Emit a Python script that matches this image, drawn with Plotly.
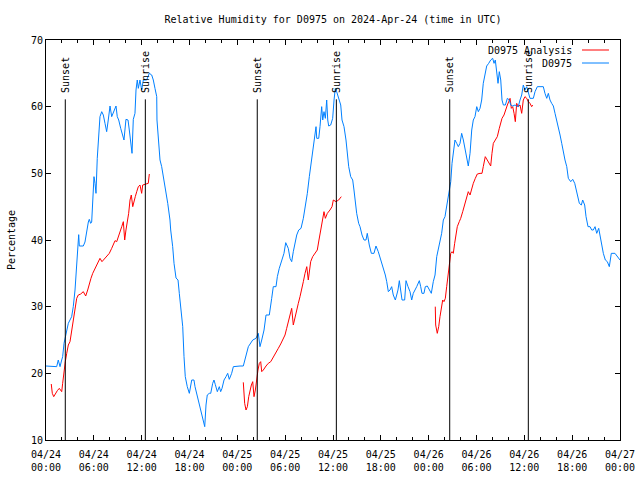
import pandas as pd
import numpy as np
import plotly.graph_objects as go

BASE = pd.Timestamp("2024-04-24 00:00")

# D0975 observations: hours since 2024-04-24 00:00 UTC, relative humidity (%)
obs_hours = [0.00, 0.16, 1.00, 1.34, 1.54, 1.76, 1.97, 2.09, 2.26, 2.51, 2.80, 3.22, 3.42, 3.64, 3.85, 3.98,
             4.10, 4.18, 4.68, 4.89, 5.11, 5.31, 5.43, 5.60, 5.73, 5.86, 6.02, 6.15, 6.27, 6.43, 6.61, 6.77,
             6.99, 7.19, 7.40, 7.61, 7.81, 8.03, 8.24, 8.44, 8.78, 8.94, 9.12, 9.37, 9.62, 9.78, 10.03, 10.29,
             10.45, 10.62, 10.79, 10.95, 11.16, 11.29, 11.45, 11.58, 11.79, 12.00, 12.21, 12.63, 12.96, 13.26,
             13.46, 13.67, 13.89, 13.92, 14.09, 14.30, 14.51, 14.80, 15.05, 15.27, 15.55, 15.64, 15.89, 16.06,
             16.31, 16.56, 16.72, 16.90, 17.15, 17.31, 17.47, 17.72, 17.98, 18.28, 18.56, 18.69, 18.90, 19.10,
             19.32, 19.53, 19.73, 19.91, 20.07, 20.23, 20.48, 20.66, 20.91, 21.07, 21.24, 21.49, 21.74, 21.91,
             22.08, 22.33, 22.58, 22.79, 22.99, 23.29, 23.50, 23.92, 24.34, 24.75, 24.96, 25.18, 25.38, 25.93,
             26.34, 26.63, 26.84, 27.06, 27.35, 27.60, 28.01, 28.31, 28.51, 28.85, 29.02, 29.26, 29.57, 29.85,
             30.07, 30.39, 30.61, 30.82, 31.02, 31.23, 31.45, 31.70, 31.99, 32.28, 32.53, 32.78, 33.03, 33.20,
             33.37, 33.53, 33.71, 33.87, 33.96, 34.21, 34.37, 34.58, 34.71, 34.87, 35.04, 35.21, 35.34, 35.46,
             35.71, 35.96, 36.13, 36.29, 36.46, 36.66, 36.97, 37.13, 37.38, 37.63, 37.79, 37.97, 38.22, 38.47,
             38.63, 38.80, 38.97, 39.22, 39.39, 39.64, 39.89, 40.14, 40.30, 40.55, 40.81, 41.14, 41.39, 41.68,
             41.98, 42.31, 42.56, 42.74, 42.94, 43.15, 43.36, 43.56, 43.82, 43.99, 44.15, 44.32, 44.49, 44.66,
             44.99, 45.16, 45.41, 45.66, 45.87, 46.07, 46.50, 46.83, 47.00, 47.16, 47.41, 47.58, 47.83, 48.08,
             48.33, 48.58, 48.80, 49.01, 49.21, 49.33, 49.63, 49.84, 50.05, 50.18, 50.46, 50.77, 50.93, 51.09,
             51.30, 51.52, 51.72, 51.93, 52.14, 52.35, 52.56, 52.77, 52.97, 53.19, 53.40, 53.60, 53.81, 54.03,
             54.23, 54.44, 54.65, 54.85, 55.07, 55.28, 55.53, 55.78, 56.03, 56.20, 56.36, 56.53, 56.70, 56.86,
             57.04, 57.20, 57.37, 57.62, 57.87, 58.12, 58.29, 58.54, 58.83, 59.04, 59.24, 59.46, 59.67, 59.87,
             60.08, 60.30, 60.50, 60.71, 61.13, 61.34, 61.63, 61.97, 62.38, 62.59, 62.81, 63.01, 63.22, 63.43,
             63.64, 63.85, 64.06, 64.31, 64.48, 64.69, 64.89, 65.10, 65.32, 65.52, 65.82, 66.07, 66.32, 66.48,
             66.65, 66.90, 67.15, 67.32, 67.57, 67.74, 67.99, 68.24, 68.45, 68.65, 68.87, 69.08, 69.33, 69.53,
             69.74, 69.91, 70.16, 70.41, 70.66, 70.91, 71.37, 71.66, 72.00]
obs_rh = [21.1, 21.1, 21.0, 21.0, 22.0, 21.0, 22.0, 22.5, 24.5, 26.0, 27.5, 28.5, 30.0, 32.5, 36.5, 39.7,
          40.8, 39.1, 39.1, 39.7, 41.5, 42.7, 43.1, 42.5, 42.7, 45.75, 49.5, 48.5, 47.0, 52.25, 56.0, 58.5,
          59.25, 58.75, 57.5, 56.25, 58.0, 60.1, 58.5, 59.0, 60.1, 58.5, 58.0, 56.75, 55.75, 55.0, 58.1, 58.0,
          56.5, 54.5, 53.0, 58.1, 59.0, 62.5, 64.0, 62.75, 64.0, 62.5, 64.0, 64.0, 65.0, 64.75,
          64.0, 62.75, 61.5, 58.0, 55.5, 52.0, 51.0, 49.0, 47.5, 45.5, 43.0, 41.5, 39.0, 36.5,
          34.3, 34.0, 32.0, 29.5, 27.0, 22.5, 19.5, 18.0, 17.0, 19.0, 19.0, 18.0, 17.0, 16.0,
          15.0, 14.0, 13.0, 12.0, 15.25, 16.75, 17.0, 17.0, 18.5, 19.0, 18.3, 17.25, 18.0, 17.25,
          17.75, 19.0, 19.5, 20.0, 19.1, 20.0, 21.0, 21.1, 21.1, 21.1, 22.0, 23.0, 24.0, 25.0,
          25.25, 26.0, 24.0, 25.0, 26.5, 28.75, 28.75, 31.25, 33.0, 33.0, 34.5, 35.75, 37.0, 38.0,
          39.6, 38.75, 37.25, 36.75, 38.25, 39.75, 40.75, 41.5, 41.75, 43.25, 45.0, 47.0, 49.5, 51.0,
          52.75, 54.0, 55.5, 57.0, 55.25, 55.25, 57.0, 60.0, 58.0, 59.25, 58.25, 61.0, 58.0, 57.1,
          57.25, 58.25, 61.0, 62.75, 62.25, 61.5, 60.25, 58.0, 57.0, 55.0, 53.0, 51.0, 49.5, 49.0,
          47.5, 45.5, 44.0, 42.5, 42.0, 40.75, 40.0, 40.0, 41.0, 39.25, 38.0, 38.0, 39.1, 38.25,
          37.0, 36.0, 34.75, 33.75, 32.25, 32.5, 33.0, 31.75, 31.0, 31.75, 32.5, 33.9, 32.5, 31.0,
          31.0, 33.9, 33.0, 32.25, 31.0, 32.0, 33.0, 33.9, 33.0, 32.0, 32.0, 33.0, 33.1, 32.5,
          32.0, 33.75, 34.75, 37.5, 38.5, 39.25, 41.0, 43.0, 43.5, 44.5, 46.5, 48.75, 51.5, 53.5,
          55.0, 54.5, 54.0, 54.5, 56.0, 55.0, 53.5, 52.0, 51.1, 53.0, 56.5, 58.0, 58.5, 60.0,
          59.25, 59.75, 61.0, 63.5, 65.0, 66.1, 66.5, 67.0, 67.25, 66.5, 67.0, 65.0, 63.5, 65.25,
          64.0, 61.0, 60.25, 60.25, 61.25, 61.0, 60.25, 60.1, 60.25, 60.1, 60.0, 61.0, 61.75, 63.25,
          62.5, 63.0, 62.25, 61.25, 61.25, 62.25, 63.0, 63.0, 63.0, 62.0, 61.25, 62.0, 61.0, 60.5,
          60.1, 59.0, 58.0, 57.0, 55.75, 54.5, 53.0, 52.0, 51.0, 49.25, 48.75, 49.1, 48.5, 47.75,
          47.0, 45.5, 45.25, 46.0, 45.25, 43.5, 42.0, 42.0, 41.5, 41.5, 42.0, 41.0, 41.75, 40.5,
          38.75, 38.0, 37.0, 36.75, 36.0, 38.0, 38.0, 37.5, 37.0]

# D0975 Analysis, three separate segments
ana1_hours = [0.66, 0.79, 0.97, 1.17, 1.42, 1.67, 1.84, 1.97, 2.09, 2.26, 2.42, 2.60, 2.80, 3.01, 3.22, 3.42,
              3.64, 3.85, 4.05, 4.35, 4.68, 4.98, 5.23, 5.43, 5.64, 5.86, 6.15, 6.43, 6.77, 7.02, 7.28, 7.53,
              7.94, 8.24, 8.44, 8.66, 8.87, 9.03, 9.28, 9.50, 9.70, 9.87, 10.03, 10.20, 10.37, 10.54, 10.70,
              10.88, 11.04, 11.20, 11.38, 11.58, 11.79, 12.00, 12.13, 12.63, 12.83, 12.96]
ana1_rh = [18.4, 17.0, 16.5, 17.0, 17.4, 17.75, 17.5, 17.25, 18.5, 20.75, 21.75, 23.0, 24.25, 24.75, 26.25, 28.0,
           29.75, 31.25, 31.75, 31.9, 32.25, 31.6, 32.5, 33.5, 34.25, 35.0, 35.75, 36.25, 37.25, 36.75, 37.1, 37.5,
           38.0, 38.75, 39.25, 39.9, 39.75, 40.25, 41.0, 42.0, 42.75, 40.0, 41.5, 42.75, 44.0, 46.0, 46.75,
           45.0, 46.0, 46.5, 47.25, 48.0, 48.25, 47.0, 48.25, 48.4, 48.5, 49.9]
ana2_hours = [24.75, 24.92, 25.09, 25.26, 25.43, 25.59, 25.76, 25.93, 26.09, 26.26, 26.43, 26.59, 26.76, 26.93,
              27.06, 27.26, 27.60, 27.88, 28.19, 28.51, 28.85, 29.14, 29.44, 29.69, 29.98, 30.19, 30.39, 30.61,
              30.82, 31.02, 31.23, 31.45, 31.65, 31.86, 32.07, 32.28, 32.49, 32.71, 32.90, 33.03, 33.20, 33.45,
              33.74, 34.03, 34.24, 34.46, 34.71, 34.87, 35.04, 35.29, 35.62, 35.88, 36.04, 36.38, 36.71, 37.04]
ana2_rh = [18.65, 15.5, 14.5, 15.0, 16.5, 17.5, 18.25, 18.75, 16.5, 17.5, 19.25, 20.5, 21.5, 21.75,
           20.25, 20.5, 21.1, 21.5, 21.75, 22.5, 23.25, 23.75, 24.4, 25.0, 25.75, 26.75, 27.75, 28.75,
           29.75, 27.25, 28.5, 29.5, 30.5, 31.5, 32.5, 33.75, 35.0, 36.0, 34.0, 35.5, 36.75, 37.5,
           38.0, 38.5, 40.0, 41.5, 43.25, 44.25, 43.25, 44.0, 44.5, 45.0, 46.0, 45.75, 46.0, 46.5]
ana3_hours = [48.83, 48.88, 49.08, 49.26, 49.42, 49.59, 49.76, 49.92, 50.09, 50.26, 50.43, 50.59, 50.77, 50.93,
              51.09, 51.26, 51.43, 51.59, 51.84, 52.02, 52.27, 52.52, 52.77, 52.97, 53.19, 53.40, 53.60, 53.85,
              54.10, 54.44, 54.69, 54.85, 55.10, 55.35, 55.60, 55.78, 55.94, 56.11, 56.36, 56.61, 56.86, 57.04,
              57.20, 57.45, 57.62, 57.87, 58.04, 58.21, 58.37, 58.54, 58.71, 58.87, 59.04, 59.24, 59.46, 59.67,
              59.87, 60.08, 60.30, 60.50, 60.71, 60.92, 61.05]
ana3_rh = [30.0, 27.25, 26.0, 27.0, 28.5, 30.0, 31.0, 30.75, 31.25, 33.0, 34.5, 36.5, 38.0, 38.25,
           38.0, 39.5, 41.0, 42.0, 42.75, 43.25, 44.25, 45.25, 46.25, 47.25, 46.75, 47.75, 48.5, 49.25,
           49.9, 50.0, 50.0, 51.0, 52.5, 52.0, 51.5, 51.1, 53.0, 54.5, 55.0, 55.5, 56.75, 57.5,
           58.25, 58.75, 59.5, 60.25, 60.75, 61.25, 59.75, 60.0, 59.0, 57.75, 60.5, 60.0, 60.25, 59.0,
           61.0, 61.5, 61.25, 60.75, 60.5, 60.0, 60.25]

# Sun events (hours since start)
event_hours = [2.42, 12.46, 26.50, 36.42, 50.64, 60.50]
event_names = ["Sunset", "Sunrise", "Sunset", "Sunrise", "Sunset", "Sunrise"]
event_top = 61.1
event_label_y = 61.8

tick_hours = list(range(0, 73, 6))
tick_text = ["04/24<br>00:00", "04/24<br>06:00", "04/24<br>12:00", "04/24<br>18:00",
             "04/25<br>00:00", "04/25<br>06:00", "04/25<br>12:00", "04/25<br>18:00",
             "04/26<br>00:00", "04/26<br>06:00", "04/26<br>12:00", "04/26<br>18:00",
             "04/27<br>00:00"]


def to_time(hours):
    return BASE + pd.to_timedelta(np.asarray(hours, dtype=float), unit="h")


ana_x = list(to_time(ana1_hours)) + [None] + list(to_time(ana2_hours)) + [None] + list(to_time(ana3_hours))
ana_y = ana1_rh + [None] + ana2_rh + [None] + ana3_rh

FONT = "DejaVu Sans Mono"
RED = "#ff0000"
BLUE = "#0080ff"

fig = go.Figure()
fig.add_trace(go.Scatter(x=ana_x, y=ana_y, mode="lines", name="D0975 Analysis",
                         line=dict(color=RED, width=1), connectgaps=False))
fig.add_trace(go.Scatter(x=to_time(obs_hours), y=obs_rh, mode="lines", name="D0975",
                         line=dict(color=BLUE, width=1)))

shapes = []
annotations = []
for h, name in zip(event_hours, event_names):
    t = BASE + pd.Timedelta(hours=h)
    shapes.append(dict(type="line", xref="x", yref="y", x0=t, x1=t, y0=10, y1=event_top,
                       line=dict(color="black", width=1)))
    annotations.append(dict(x=t, y=event_label_y, xref="x", yref="y", text=name, textangle=-90,
                            showarrow=False, xanchor="center", yanchor="bottom",
                            font=dict(family=FONT, size=10, color="black")))

# gnuplot-style legend: text right-aligned, sample line to the right
legend_rows = [("D0975 Analysis", RED, 0.975), ("D0975", BLUE, 0.9425)]
for label, col, yp in legend_rows:
    annotations.append(dict(x=0.9199, y=yp, xref="paper", yref="paper", text=label, showarrow=False,
                            xanchor="right", yanchor="middle",
                            font=dict(family=FONT, size=10, color="black")))
    shapes.append(dict(type="line", xref="paper", yref="paper", x0=0.9338, x1=0.9808, y0=yp, y1=yp,
                       line=dict(color=col, width=1)))

fig.update_layout(
    width=640, height=480,
    margin=dict(l=46, r=20, t=40, b=40),
    paper_bgcolor="white", plot_bgcolor="white",
    showlegend=False,
    font=dict(family=FONT, size=10, color="black"),
    title=dict(text="Relative Humidity for D0975 on 2024-Apr-24 (time in UTC)",
               x=0.5, xref="paper", y=0.96, yref="container", xanchor="center", yanchor="middle",
               font=dict(family=FONT, size=10, color="black")),
    shapes=shapes,
    annotations=annotations,
)
fig.update_xaxes(
    type="date", automargin=False,
    range=[BASE, BASE + pd.Timedelta(hours=72)],
    tickvals=list(to_time(tick_hours)), ticktext=tick_text,
    ticks="inside", ticklen=5, tickcolor="black", tickwidth=1, ticklabelstandoff=5,
    minor=dict(dtick=2 * 3600 * 1000, ticks="inside", ticklen=3, tickcolor="black", showgrid=False),
    showline=True, linecolor="black", linewidth=1, mirror="ticks",
    showgrid=False, zeroline=False,
    tickfont=dict(family=FONT, size=10, color="black"),
)
fig.update_yaxes(
    automargin=False,
    range=[10, 70], dtick=10, tick0=10,
    ticks="inside", ticklen=5, tickcolor="black", tickwidth=1,
    showline=True, linecolor="black", linewidth=1, mirror="ticks",
    showgrid=False, zeroline=False,
    tickfont=dict(family=FONT, size=10, color="black"),
    title=dict(text="Percentage", font=dict(family=FONT, size=10, color="black"), standoff=13),
)

fig.write_html("out.html", config={"displayModeBar": False},
               post_script="document.body.style.margin='0';document.body.style.padding='0';")
